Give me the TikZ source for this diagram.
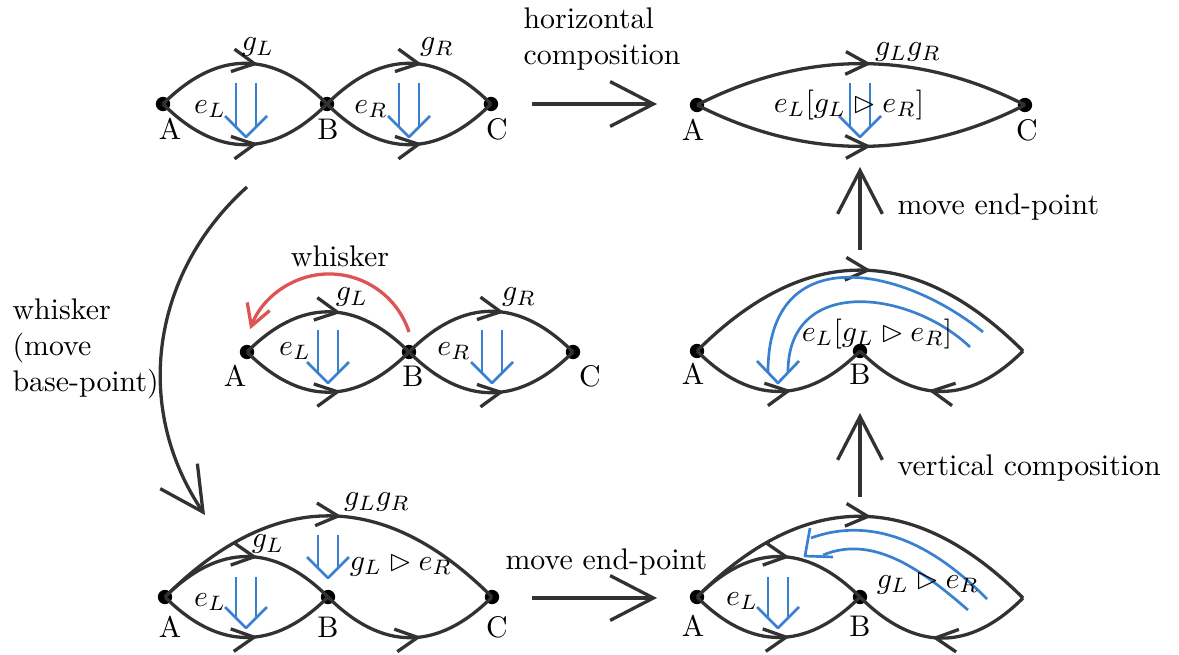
\documentclass[tikz,border=0pt]{standalone}
\usepackage{amssymb}
\usetikzlibrary{arrows.meta,decorations.markings}
\definecolor{arcgray}{RGB}{50,50,50}
\definecolor{cellblue}{RGB}{58,128,208}
\definecolor{whiskred}{RGB}{222,84,84}

\begin{document}
\begin{tikzpicture}[
    x=0.335pt, y=0.335pt,
    vertex/.style={circle, fill=black, inner sep=0pt, minimum size=4.8pt},
    lbl/.style={inner sep=0pt},
    txt/.style={inner sep=0pt, anchor=west, align=left},
    gline/.style={arcgray, line width=1.1pt},
    midarrow/.style={postaction={decorate, decoration={markings,
        mark=at position #1 with {\arrow{Straight Barb[length=7.4pt,width=7.6pt]}}}}},
    cell/.style={cellblue, line width=0.9pt},
    bigarrow/.style={arcgray, line width=1.1pt, -{Straight Barb[length=14.5pt,width=15pt]}},
    whisk/.style={whiskred, line width=1.1pt, -{Straight Barb[length=7pt,width=8pt]}},
    pics/twocell/.style={code={
      \draw[cell] (-10,#1) -- (-10,10) (10,#1) -- (10,10);
      \draw[cell, line join=round] (-21,21) -- (0,0) -- (21,21);
    }},
  ]
  \useasboundingbox (0,0) rectangle (1179,-655);

  % --- points and their letters ----------------------------------------
  \foreach \nm/\x/\y/\lx/\ly/\txt in {
      tlA/163/104/170/129/A, tlB/327/104/328/129/B, tlC/491/104/497/129/C,
      trA/697/105/693/130/A, trC/1025/105/1027/130/C,
      mlA/247/352/235/376/A, mlB/409/352/413/376/B, mlC/573/352/590/376/C,
      blA/165/597/170/627/A, blB/328/597/328/627/B, blC/492/597/497/627/C,
      rmA/697/351/693/374/A, rmB/860/351/860/374/B,
      brA/697/597/693/626/A, brB/860/597/860/626/B} {
    \node[vertex] (\nm) at (\x,-\y) {};
    \node[lbl] (\nm-l) at (\lx,-\ly) {\txt};
  }
  \coordinate (rmC) at (1023,-351);
  \coordinate (brC) at (1023,-598);

  % --- 1-cells: source/target/out angle/looseness/tip position ------------
  \foreach \s/\t/\o/\l/\p in {
      tlA/tlB/45/1.2/0.57, tlA/tlB/-45/1.2/0.57, tlB/tlC/45/1.2/0.57, tlB/tlC/-45/1.2/0.57,
      trA/trC/27/0.95/0.53, trA/trC/-27/0.95/0.53,
      mlA/mlB/45/1.2/0.57, mlA/mlB/-45/1.2/0.57, mlB/mlC/45/1.2/0.57, mlB/mlC/-45/1.2/0.57,
      blA/blC/45/1.2/0.535, blA/blB/45/1.2/0.56, blA/blB/-45/1.2/0.56, blB/blC/-45/1.2/0.56,
      rmA/rmC/45/1.2/0.53, rmA/rmB/-45/1.2/0.57, rmC/rmB/-135/1.2/0.57,
      brA/brC/45/1.2/0.53, brA/brB/45/1.2/0.56, brA/brB/-45/1.2/0.56, brC/brB/-135/1.2/0.55} {
    \pgfmathsetmacro\ii{180-\o}
    \draw[gline, midarrow=\p] (\s.center) to[out=\o, in=\ii, looseness=\l] (\t.center);
  }

  % --- 2-cells ----------------------------------------------------------
  \pic at (246,-137) {twocell=54};
  \pic at (409,-137) {twocell=54};
  \pic at (860,-137) {twocell=54};
  \pic at (328,-383) {twocell=53};
  \pic at (492,-383) {twocell=53};
  \pic at (328,-578) {twocell=43};
  \pic at (246,-628) {twocell=51};
  \pic at (778,-628) {twocell=51};
  % curved ones
  \draw[cell] (983,-332) .. controls (900,-265) and (768,-240) .. (768,-372);
  \draw[cell] (970,-347) .. controls (910,-290) and (788,-275) .. (788,-372);
  \draw[cell, line join=round] (757,-361) -- (778,-383) -- (799,-361);
  \draw[cell] (987,-599) .. controls (938,-549) and (877,-514) .. (811,-538);
  \draw[cell] (968,-610) .. controls (923,-571) and (874,-534) .. (823,-555);
  \draw[cell, line join=round] (810,-528) -- (805,-556) -- (833,-557);

  % --- cell labels --------------------------------------------------------
  \node[lbl] (tlgL) at (258,-47) {$g_L$};
  \node[lbl] (tlgR) at (437,-47) {$g_R$};
  \node[lbl] (tleL) at (210,-109) {$e_L$};
  \node[lbl] (tleR) at (371,-109) {$e_R$};
  \node[lbl] (trg) at (908,-52) {$g_Lg_R$};
  \node[lbl] (tre) at (849,-105) {$e_L[g_L\rhd e_R]$};
  \node[lbl] (mlgL) at (352,-297) {$g_L$};
  \node[lbl] (mlgR) at (519,-297) {$g_R$};
  \node[lbl] (mleL) at (295,-351) {$e_L$};
  \node[lbl] (mleR) at (454,-351) {$e_R$};
  \node[lbl] (blg) at (377,-502) {$g_Lg_R$};
  \node[lbl] (blgL) at (268,-544) {$g_L$};
  \node[lbl] (blw) at (401,-565) {$g_L\rhd e_R$};
  \node[lbl] (bleL) at (210,-602) {$e_L$};
  \node[lbl] (rme) at (877,-334) {$e_L[g_L\rhd e_R]$};
  \node[lbl] (breL) at (742,-601) {$e_L$};
  \node[lbl] (brw) at (928,-583) {$g_L\rhd e_R$};

  % --- the whisker move inside the middle picture -----------------------
  \coordinate (whiskS) at (409,-332);
  \draw[whisk] (whiskS) arc[start angle=18, end angle=160, radius=84];
  \node[lbl] (wred) at (340,-256) {whisker};

  % --- steps between the pictures ------------------------------------------
  \coordinate (hcompS) at (532,-104);
  \coordinate (hcompE) at (657,-104);
  \draw[bigarrow] (hcompS) -- (hcompE);
  \node[txt] (hcomplab) at (523,-39) {horizontal\\composition};

  \coordinate (wbaseS) at (247,-187);
  \coordinate (wbaseE) at (205,-515);
  \draw[bigarrow] (wbaseS) to[out=222, in=124] (wbaseE);
  \node[txt] (wbaselab) at (12,-349) {whisker\\(move\\base-point)};

  \coordinate (emoveS) at (532,-598);
  \coordinate (emoveE) at (657,-598);
  \draw[bigarrow] (emoveS) -- (emoveE);
  \node[txt] (emovelab) at (505,-562) {move end-point};

  \coordinate (vcompS) at (860,-497);
  \coordinate (vcompE) at (860,-413);
  \draw[bigarrow] (vcompS) -- (vcompE);
  \node[txt] (vcomplab) at (897,-468) {vertical composition};

  \coordinate (emove2S) at (860,-250);
  \coordinate (emove2E) at (860,-167);
  \draw[bigarrow] (emove2S) -- (emove2E);
  \node[txt] (emove2lab) at (897,-207) {move end-point};

\end{tikzpicture}
\end{document}
